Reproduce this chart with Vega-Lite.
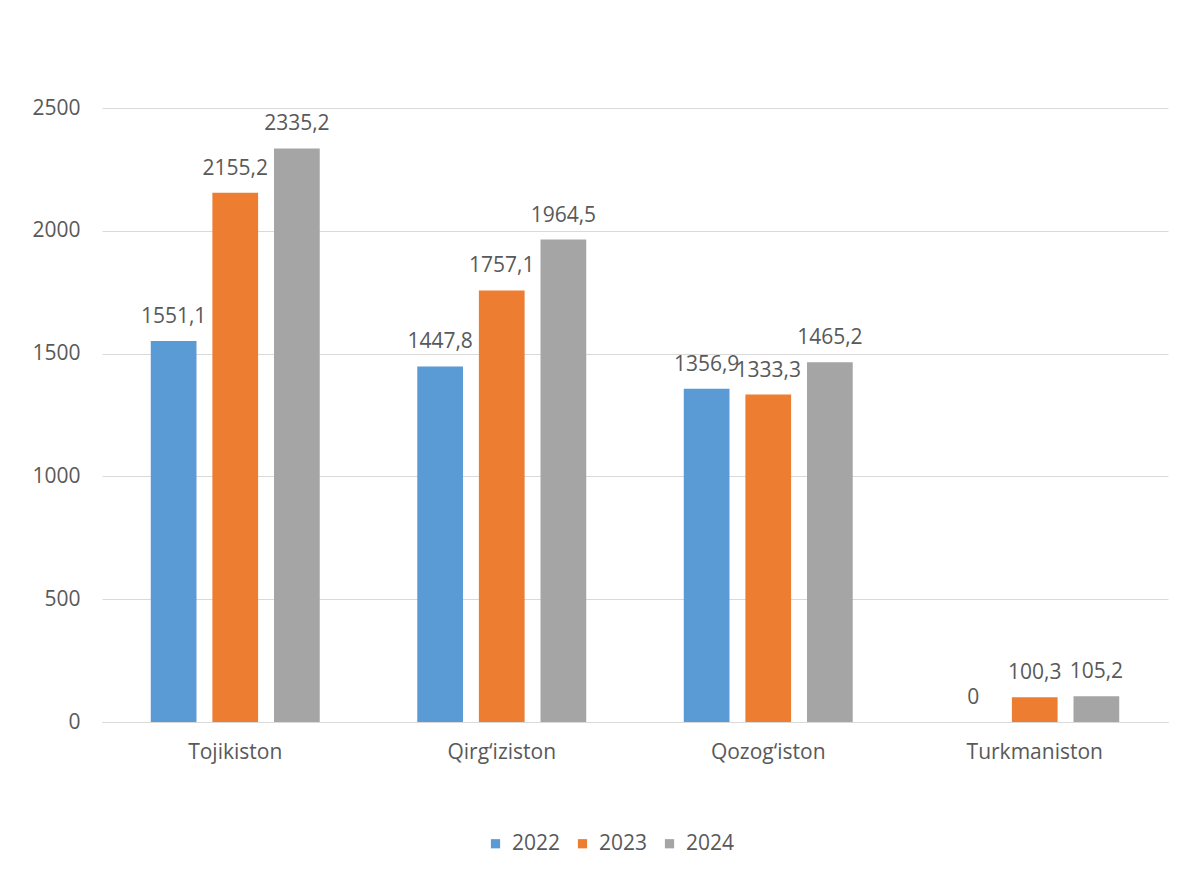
{
  "$schema": "https://vega.github.io/schema/vega-lite/v6.json",
  "width": 1066,
  "height": 614,
  "autosize": {"type": "none"},
  "padding": {"left": 102, "top": 108, "right": 20, "bottom": 153},
  "background": "white",
  "data": {
    "values": [
      {"country": "Tojikiston", "year": "2022", "value": 1551.1},
      {"country": "Tojikiston", "year": "2023", "value": 2155.2},
      {"country": "Tojikiston", "year": "2024", "value": 2335.2},
      {"country": "Qirg‘iziston", "year": "2022", "value": 1447.8},
      {"country": "Qirg‘iziston", "year": "2023", "value": 1757.1},
      {"country": "Qirg‘iziston", "year": "2024", "value": 1964.5},
      {"country": "Qozog‘iston", "year": "2022", "value": 1356.9},
      {"country": "Qozog‘iston", "year": "2023", "value": 1333.3},
      {"country": "Qozog‘iston", "year": "2024", "value": 1465.2},
      {"country": "Turkmaniston", "year": "2022", "value": 0},
      {"country": "Turkmaniston", "year": "2023", "value": 100.3},
      {"country": "Turkmaniston", "year": "2024", "value": 105.2}
    ]
  },
  "encoding": {
    "x": {
      "field": "country",
      "type": "nominal",
      "sort": ["Tojikiston", "Qirg‘iziston", "Qozog‘iston", "Turkmaniston"],
      "scale": {"paddingInner": 0.366, "paddingOuter": 0.183},
      "axis": {
        "title": null,
        "labelAngle": 0,
        "ticks": false,
        "domainColor": "#D9D9D9",
        "labelPadding": 19,
        "labelFontSize": 21,
        "labelColor": "#595959",
        "labelFont": "Open Sans"
      }
    },
    "xOffset": {
      "field": "year",
      "type": "nominal",
      "scale": {"paddingInner": 0.258, "paddingOuter": 0}
    },
    "y": {
      "field": "value",
      "type": "quantitative",
      "scale": {"domain": [0, 2500], "nice": false},
      "axis": {
        "title": null,
        "values": [0, 500, 1000, 1500, 2000, 2500],
        "format": "d",
        "ticks": false,
        "domain": false,
        "gridColor": "#D9D9D9",
        "labelPadding": 22,
        "labelFontSize": 21,
        "labelColor": "#595959",
        "labelFont": "Open Sans"
      }
    }
  },
  "layer": [
    {
      "mark": {"type": "bar"},
      "encoding": {
        "color": {
          "field": "year",
          "type": "nominal",
          "scale": {"domain": ["2022", "2023", "2024"], "range": ["#5B9BD5", "#ED7D31", "#A5A5A5"]},
          "legend": {
            "title": null,
            "orient": "none",
            "direction": "horizontal",
            "legendX": 383,
            "legendY": 725,
            "symbolType": "square",
            "symbolSize": 85,
            "symbolStrokeWidth": 0,
            "labelFontSize": 21,
            "labelColor": "#595959",
            "labelFont": "Open Sans",
            "labelOffset": 6,
            "columnPadding": 11
          }
        }
      }
    },
    {
      "mark": {"type": "text", "baseline": "alphabetic", "dy": -18, "fontSize": 21, "font": "Open Sans", "color": "#595959"},
      "encoding": {
        "text": {"field": "value", "type": "quantitative", "format": "~f"}
      }
    }
  ],
  "config": {
    "locale": {"number": {"decimal": ",", "thousands": "", "grouping": [3], "currency": ["", ""]}},
    "view": {"stroke": null}
  }
}
